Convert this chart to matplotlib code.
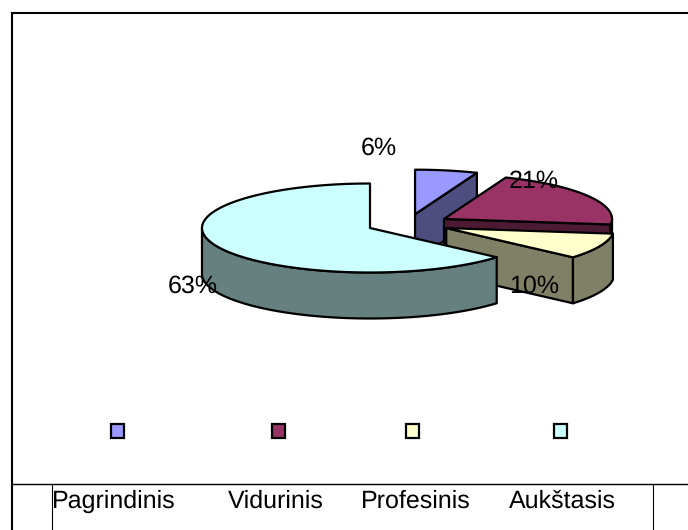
import numpy as np
import matplotlib
matplotlib.use("Agg")
import matplotlib.pyplot as plt
from matplotlib.patches import Polygon, Rectangle

plt.rcParams["text.hinting"] = "none"
plt.rcParams["text.hinting_factor"] = 1

categories = ["Pagrindinis", "Vidurinis", "Profesinis", "Aukštasis"]
shares = [6.0, 21.0, 9.4, 63.6]
share_labels = ["6%", "21%", "10%", "63%"]

top_colors = ["#9999FF", "#993366", "#FFFFCC", "#CCFFFF"]
side_colors = ["#4D4D80", "#4D1A33", "#808066", "#668080"]
explode = [1, 1, 1, 0.0]

W, H = 688, 530
fig = plt.figure(figsize=(W / 100, H / 100), dpi=100)
ax = fig.add_axes([0, 0, 1, 1])
ax.set_xlim(0, W)
ax.set_ylim(H, 0)
ax.axis("off")

font = ["Liberation Sans", "DejaVu Sans"]
FS = 17.8
LW = 1.6
RX, RY, DEPTH = 168, 44.5, 46
CX, CY = 407, 224
EX, EY = 43, 10
MAIN_APEX = (370, 228)


def rim(cx, cy, a0, a1, dy=0):
    t = np.radians(np.linspace(a0, a1, 120))
    return np.column_stack([cx + RX * np.sin(t), cy - RY * np.cos(t) + dy])


def poly(pts, color, z):
    ax.add_patch(Polygon(pts, closed=True, facecolor=color, edgecolor="black",
                         linewidth=LW, joinstyle="round", zorder=z))


ends = np.cumsum(shares) * 3.6
starts = np.concatenate([[0], ends[:-1]])

for i, (a0, a1) in enumerate(zip(starts, ends)):
    mid = np.radians((a0 + a1) / 2)
    if explode[i]:
        cx = CX + EX * np.sin(mid)
        cy = CY - EY * np.cos(mid)
    else:
        cx, cy = MAIN_APEX
    z = 2 + i * 2
    apex = np.array([cx, cy])
    # radial cut at the clockwise end, visible only when it faces the viewer
    if a1 < 180:
        edge = rim(cx, cy, a1, a1)[0]
        poly([apex, edge, edge + [0, DEPTH], apex + [0, DEPTH]], side_colors[i], z)
    # outer wall on the front half
    f0, f1 = max(a0, 90), min(a1, 270)
    if f1 > f0:
        poly(np.vstack([rim(cx, cy, f0, f1), rim(cx, cy, f1, f0, DEPTH)]), side_colors[i], z)
    # top face
    poly(np.vstack([[apex], rim(cx, cy, a0, a1)]), top_colors[i], z + 1)

label_xy = [(379, 155), (534, 188), (534, 293), (193, 293)]
for text, (x, y) in zip(share_labels, label_xy):
    ax.text(x, y, text, ha="center", va="baseline", fontsize=FS, family=font, color="black", zorder=20)

key_x = [117, 278, 412, 560]
for x, c in zip(key_x, top_colors):
    ax.add_patch(Rectangle((x - 6.5, 424), 13, 14, facecolor=c, edgecolor="black", linewidth=1.6, zorder=5))

name_x = [52, 228, 361, 509]
for x, name in zip(name_x, categories):
    ax.text(x, 508, name, ha="left", va="baseline", fontsize=FS, family=font, color="black")

ax.plot([12, 12, W], [H, 13, 13], color="black", lw=1.5, solid_joinstyle="miter")
ax.plot([12, W], [484, 484], color="black", lw=1.0)
ax.plot([51.7, 51.7], [484, H], color="black", lw=0.8)
ax.plot([652.7, 652.7], [484, H], color="black", lw=0.8)

fig.savefig("out.png", dpi=100)
